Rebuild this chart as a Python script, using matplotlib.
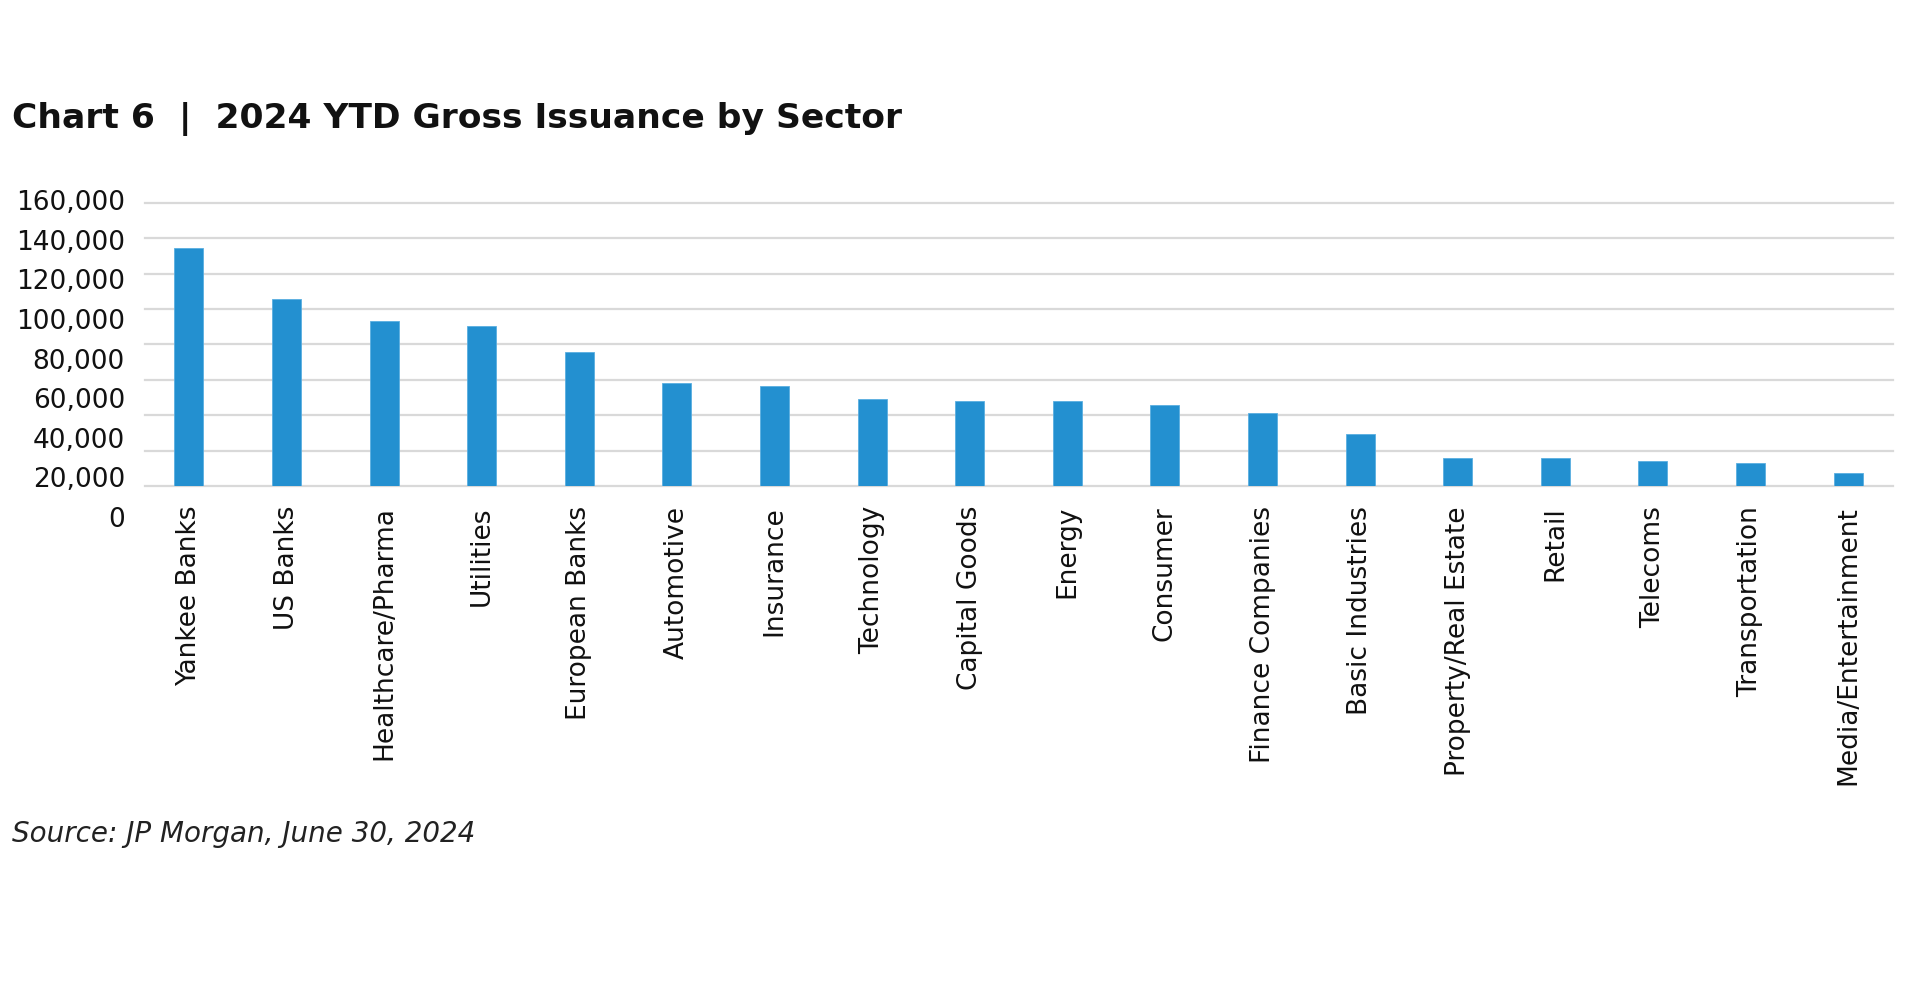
"""
Chart 6 | 2024 YTD Gross Issuance by Sector (bar chart)
"""
import matplotlib
matplotlib.use('Agg')
import matplotlib.pyplot as plt
from matplotlib.ticker import FuncFormatter

# data
sectors = ['Yankee Banks', 'US Banks', 'Healthcare/Pharma', 'Utilities', 'European Banks',
           'Automotive', 'Insurance', 'Technology', 'Capital Goods', 'Energy', 'Consumer',
           'Finance Companies', 'Basic Industries', 'Property/Real Estate', 'Retail',
           'Telecoms', 'Transportation', 'Media/Entertainment']
issuance = [134600, 105600, 93200, 90200, 75700, 58400, 56500, 48900, 47800, 47800,
            45700, 41000, 29400, 16000, 16000, 14100, 13000, 7200]
yticks = [0, 20000, 40000, 60000, 80000, 100000, 120000, 140000, 160000]

BAR = '#2390D0'
GRID = '#D9D9D9'
TXT = '#111111'

W, H = 1913, 1000
fig = plt.figure(figsize=(W / 100, H / 100), dpi=100)
fig.patch.set_facecolor('white')

# main plot area (pixel box: x 145..1893, y 203..486)
left, right, top, bottom = 145, 1893, 202.7, 486
ax = fig.add_axes([left / W, 1 - bottom / H, (right - left) / W, (bottom - top) / H])

x = list(range(len(sectors)))
ax.bar(x, issuance, width=0.297, color=BAR, edgecolor='#5AAEE0', linewidth=0.6, zorder=3)

ax.set_xlim(-0.45, len(sectors) - 1 + 0.46)
ax.set_ylim(0, 160000)
ax.set_yticks(yticks)
ax.yaxis.grid(True, color=GRID, linewidth=1.6)
for ln in ax.get_ygridlines():
    ln.set_clip_on(False)
ax.set_axisbelow(True)
ax.tick_params(axis='y', length=0, labelleft=False)
ax.tick_params(axis='x', length=0, pad=14.4)
ax.set_xticks(x)
ax.set_xticklabels(sectors, rotation=90, fontsize=19, color=TXT, family='DejaVu Sans')
for s in ax.spines.values():
    s.set_visible(False)

# the value labels in the original sit on a slightly taller scale than the gridlines
lab_top, lab_bot = 200, 517
ax2 = fig.add_axes([left / W, 1 - lab_bot / H, 0.001, (lab_bot - lab_top) / H])
ax2.set_ylim(0, 160000)
ax2.set_yticks(yticks)
ax2.yaxis.set_major_formatter(FuncFormatter(lambda v, p: f'{int(v):,}'))
ax2.tick_params(axis='y', length=0, pad=14.4, labelsize=19, labelcolor=TXT)
ax2.set_xticks([])
ax2.patch.set_visible(False)
for s in ax2.spines.values():
    s.set_visible(False)

fig.text(12 / W, 1 - 128 / H, 'Chart 6  |  2024 YTD Gross Issuance by Sector',
         fontsize=24.8, fontweight='bold', family='DejaVu Sans', color=TXT, va='baseline', ha='left')
fig.text(12 / W, 1 - 842 / H, 'Source: JP Morgan, June 30, 2024',
         fontsize=20, style='italic', family='DejaVu Sans', color='#222222', va='baseline', ha='left')

fig.savefig('out.png', dpi=100, facecolor='white')
